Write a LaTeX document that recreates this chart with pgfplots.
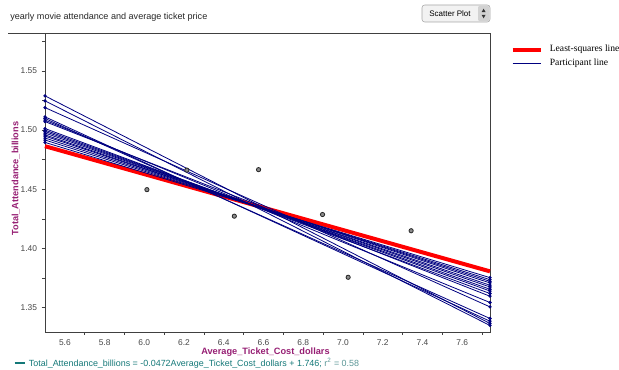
\documentclass[border=0pt]{standalone}
\usepackage{pgfplots}
\pgfplotsset{compat=1.18}
\usepackage{fontspec}
\setmainfont{Liberation Sans}
\newfontfamily\legfont{Liberation Serif}
\definecolor{navyline}{RGB}{0,0,128}
\definecolor{lblmag}{RGB}{150,30,115}
\definecolor{eqteal}{RGB}{20,120,120}
\definecolor{eqteallight}{RGB}{90,150,150}
\definecolor{ticktxt}{RGB}{70,70,70}
\definecolor{pointfill}{RGB}{140,140,140}
\begin{document}
\begin{tikzpicture}
\useasboundingbox (0,0) rectangle (464.25pt,277.5pt);
% title
\node[anchor=base west, inner sep=0pt, font=\fontsize{6.8}{7.5}\selectfont, text=black!85] at (7.5pt,262.5pt) {yearly movie attendance and average ticket price};
\draw[black!75, line width=0.6pt] (6pt,252.75pt) -- (33.75pt,252.75pt);
% button
\draw[rounded corners=2pt, fill=gray!10, draw=gray!70] (316.5pt,261pt) rectangle (367.5pt,273.75pt);
\fill[gray!35, rounded corners=1.5pt] (358.5pt,261.6pt) rectangle (366.9pt,273.15pt);
\node[font=\fontsize{6}{7}\selectfont, inner sep=0pt] at (337.5pt,267.4pt) {Scatter Plot};
\fill[black!80] (362.7pt,271pt) -- (361.2pt,268.4pt) -- (364.2pt,268.4pt) -- cycle;
\fill[black!80] (362.7pt,263.8pt) -- (361.2pt,266.4pt) -- (364.2pt,266.4pt) -- cycle;
\begin{axis}[
  at={(33.75pt,28.5pt)}, anchor=south west,
  scale only axis, width=333.75pt, height=224.25pt,
  xmin=5.5, xmax=7.74, ymin=1.3295, ymax=1.582,
  clip=false,
  axis line style={black!75, line width=0.6pt},
  xtick={5.6,5.8,6.0,6.2,6.4,6.6,6.8,7.0,7.2,7.4,7.6},
  minor xtick={5.7,5.9,6.1,6.3,6.5,6.7,6.9,7.1,7.3,7.5,7.7},
  ytick={1.35,1.40,1.45,1.50,1.55},
  minor ytick={1.375,1.425,1.475,1.525,1.575},
  xtick pos=bottom, ytick pos=left,
  tick align=outside,
  major tick length=2.5pt, minor tick length=2pt,
  major x tick style={draw=none},
  tick style={black!75, line width=0.5pt},
  ticklabel style={font=\fontsize{6.3}{7}\selectfont, text=ticktxt},
  /pgf/number format/assume math mode=true,
  xticklabel style={/pgf/number format/.cd, fixed, fixed zerofill, precision=1},
  yticklabel style={/pgf/number format/.cd, fixed, fixed zerofill, precision=2},
  xlabel={Average\_Ticket\_Cost\_dollars},
  ylabel={Total\_Attendance\_billions},
  xlabel style={at={(axis description cs:0.4955,-0.0669)}, anchor=center, font=\bfseries\fontsize{6.9}{8}\selectfont, text=lblmag},
  ylabel style={at={(axis description cs:-0.066,0.513)}, anchor=center, font=\bfseries\fontsize{6.9}{8}\selectfont, text=lblmag},
  legend style={draw=none, fill=none, inner sep=0pt,
    at={(axis description cs:1,1)}, anchor=north west, xshift=15.3pt, yshift=-8pt,
    font=\legfont\fontsize{7.2}{8}\selectfont,
    nodes={inner sep=1pt, text height=5pt, text depth=1.5pt},
    /tikz/column sep=4.4pt, /tikz/row sep=2pt},
  legend cell align=left,
  legend image code/.code={\draw[#1] (0pt,0pt) -- (21pt,0pt);},
]
\addlegendimage{red, line width=3pt}
\addlegendentry{Least-squares line}
\addlegendimage{navyline, line width=0.7pt}
\addlegendentry{Participant line}
% least-squares line
\addplot[red, line width=3pt, forget plot] coordinates {(5.5,1.4864) (7.74,1.3807)};
% participant lines
\pgfplotsset{every axis plot/.append style={}}
\addplot[navyline, line width=0.6pt, mark=*, mark size=0.9pt, forget plot] coordinates {(5.5,1.5289) (7.74,1.3367)};
\addplot[navyline, line width=0.6pt, mark=*, mark size=0.9pt, forget plot] coordinates {(5.5,1.5247) (7.74,1.3350)};
\addplot[navyline, line width=0.6pt, mark=*, mark size=0.9pt, forget plot] coordinates {(5.5,1.5190) (7.74,1.3507)};
\addplot[navyline, line width=0.6pt, mark=*, mark size=0.9pt, forget plot] coordinates {(5.5,1.5112) (7.74,1.3386)};
\addplot[navyline, line width=0.6pt, mark=*, mark size=0.9pt, forget plot] coordinates {(5.5,1.5098) (7.74,1.3409)};
\addplot[navyline, line width=0.6pt, mark=*, mark size=0.9pt, forget plot] coordinates {(5.5,1.5084) (7.74,1.3544)};
\addplot[navyline, line width=0.6pt, mark=*, mark size=0.9pt, forget plot] coordinates {(5.5,1.5072) (7.74,1.3597)};
\addplot[navyline, line width=0.6pt, mark=*, mark size=0.9pt, forget plot] coordinates {(5.5,1.5013) (7.74,1.3620)};
\addplot[navyline, line width=0.6pt, mark=*, mark size=0.9pt, forget plot] coordinates {(5.5,1.5000) (7.74,1.3641)};
\addplot[navyline, line width=0.6pt, mark=*, mark size=0.9pt, forget plot] coordinates {(5.5,1.4988) (7.74,1.3656)};
\addplot[navyline, line width=0.6pt, mark=*, mark size=0.9pt, forget plot] coordinates {(5.5,1.4975) (7.74,1.3675)};
\addplot[navyline, line width=0.6pt, mark=*, mark size=0.9pt, forget plot] coordinates {(5.5,1.4960) (7.74,1.3690)};
\addplot[navyline, line width=0.6pt, mark=*, mark size=0.9pt, forget plot] coordinates {(5.5,1.4949) (7.74,1.3709)};
\addplot[navyline, line width=0.6pt, mark=*, mark size=0.9pt, forget plot] coordinates {(5.5,1.4933) (7.74,1.3723)};
\addplot[navyline, line width=0.6pt, mark=*, mark size=0.9pt, forget plot] coordinates {(5.5,1.4916) (7.74,1.3737)};
\addplot[navyline, line width=0.6pt, mark=*, mark size=0.9pt, forget plot] coordinates {(5.5,1.4896) (7.74,1.3754)};
% data points
\addplot[only marks, mark=*, mark size=1.6pt, mark options={fill=pointfill, draw=black!85, line width=0.6pt}, forget plot]
  coordinates {(6.013,1.4497) (6.214,1.4662) (6.575,1.4666) (6.453,1.4273) (6.897,1.4287) (7.026,1.3757) (7.343,1.4150)};
\end{axis}
% regression equation
\draw[eqteal, line width=1.2pt] (11pt,5.2pt) -- (18.5pt,5.2pt);
\node[anchor=west, inner sep=0pt, font=\fontsize{6.7}{7.5}\selectfont, text=eqteal] at (21.5pt,5pt) {Total\_Attendance\_billions = -0.0472Average\_Ticket\_Cost\_dollars + 1.746; \textcolor{eqteallight}{r\textsuperscript{2} = 0.58}};
\end{tikzpicture}
\end{document}
